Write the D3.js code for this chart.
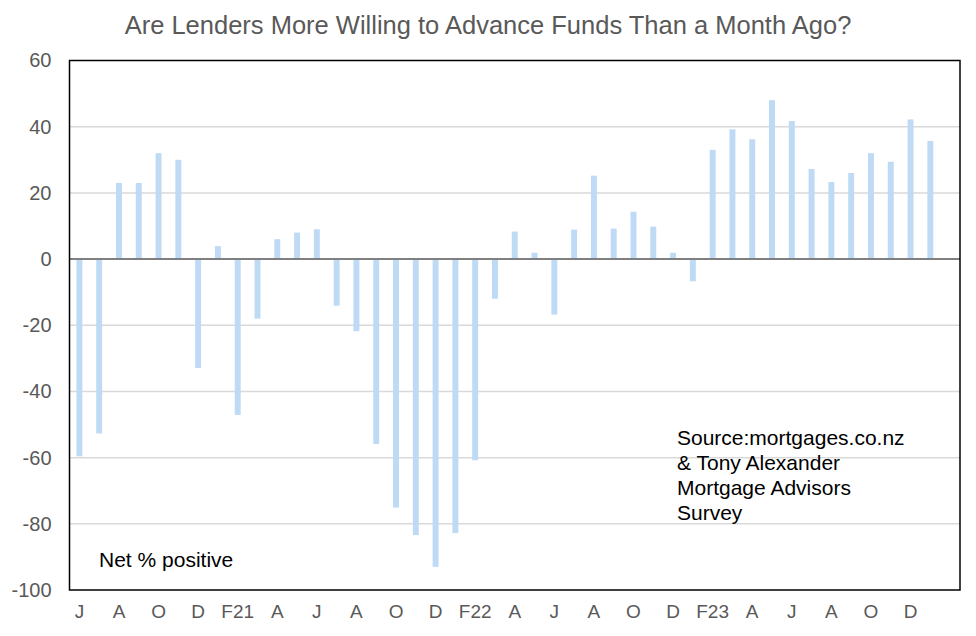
<!DOCTYPE html>
<html>
<head>
<meta charset="utf-8">
<title>Lenders willingness</title>
<style>
  body { margin: 0; background: #fff; }
  text { font-family: "Liberation Sans", Arial, sans-serif; }
  .axis path, .axis line { display: none; }
  .axis text { fill: #595959; }
  .yaxis text { font-size: 20px; }
  .xaxis text { font-size: 19px; }
</style>
</head>
<body>
<script src="https://cdn.jsdelivr.net/npm/d3@7/dist/d3.min.js"></script>
<script>
var width = 976, height = 636;

// months Jun 2020 .. Feb 2024 (last month has no reading yet)
var months = ["J","J","A","S","O","N","D","J","F21","M","A","M","J","J","A","S","O","N","D","J","F22","M",
              "A","M","J","J","A","S","O","N","D","J","F23","M","A","M","J","J","A","S","O","N","D","J","F24"];
var values = [-59.6, -52.7, 23, 23, 32, 30, -32.9, 3.9, -47.1, -18, 6, 8, 9, -14.1, -21.8, -55.9,
              -75.1, -83.4, -93, -82.8, -60.8, -12, 8.3, 1.9, -16.8, 8.9, 25.2, 9.2, 14.3, 9.8,
              1.9, -6.7, 33, 39.2, 36.2, 48, 41.7, 27.2, 23.3, 26, 32, 29.4, 42.2, 35.7];
var yTicks = [60, 40, 20, 0, -20, -40, -60, -80, -100];
var sourceLines = ["Source:mortgages.co.nz", "& Tony Alexander", "Mortgage Advisors", "Survey"];

var plotL = 69.5, plotR = 960, plotT = 60.5, plotB = 590;

var svg = d3.select("body").append("svg")
  .attr("width", width).attr("height", height);

var x = d3.scaleBand()
  .domain(d3.range(months.length))
  .range([plotL, plotR])
  .paddingInner(0.7)
  .paddingOuter(0.35);

var y = d3.scaleLinear()
  .domain([-100, 60])
  .range([plotB, plotT]);

// gridlines
svg.append("g").selectAll("line")
  .data(yTicks.filter(d => d !== 60 && d !== -100 && d !== 0))
  .enter().append("line")
  .attr("x1", plotL).attr("x2", plotR)
  .attr("y1", d => y(d)).attr("y2", d => y(d))
  .attr("stroke", "#d9d9d9").attr("stroke-width", 1.5);

// bars
svg.append("g").selectAll("rect")
  .data(values)
  .enter().append("rect")
  .attr("x", (d, i) => x(i))
  .attr("width", x.bandwidth())
  .attr("y", d => y(Math.max(0, d)))
  .attr("height", d => Math.abs(y(d) - y(0)))
  .attr("fill", "#bfdaf4");

// zero line
svg.append("line")
  .attr("x1", plotL).attr("x2", plotR)
  .attr("y1", y(0)).attr("y2", y(0))
  .attr("stroke", "#7f7f7f").attr("stroke-width", 2);

// frame
svg.append("rect")
  .attr("x", plotL).attr("y", plotT)
  .attr("width", plotR - plotL).attr("height", plotB - plotT)
  .attr("fill", "none").attr("stroke", "#000").attr("stroke-width", 1.5);

// y axis (plain hyphen minus like the original)
var yAxis = d3.axisLeft(y).tickValues(yTicks).tickFormat(d => String(d))
  .tickSize(0).tickPadding(18);
svg.append("g")
  .attr("class", "axis yaxis")
  .attr("transform", "translate(" + plotL + ",0)")
  .call(yAxis);

// x axis, label every other month
var xAxis = d3.axisBottom(x)
  .tickValues(d3.range(0, values.length, 2))
  .tickFormat(i => months[i])
  .tickSize(0).tickPadding(15);
svg.append("g")
  .attr("class", "axis xaxis")
  .attr("transform", "translate(0," + plotB + ")")
  .call(xAxis);

// title
svg.append("text")
  .attr("x", 488).attr("y", 34)
  .attr("text-anchor", "middle")
  .attr("font-size", 25.5)
  .attr("fill", "#595959")
  .text("Are Lenders More Willing to Advance Funds Than a Month Ago?");

// notes
svg.append("text")
  .attr("x", 99).attr("y", 567)
  .attr("font-size", 21)
  .attr("fill", "#000")
  .text("Net % positive");

svg.append("g").selectAll("text")
  .data(sourceLines)
  .enter().append("text")
  .attr("x", 677)
  .attr("y", (d, i) => 445 + i * 25)
  .attr("font-size", 21)
  .attr("fill", "#000")
  .text(d => d);
</script>
</body>
</html>
